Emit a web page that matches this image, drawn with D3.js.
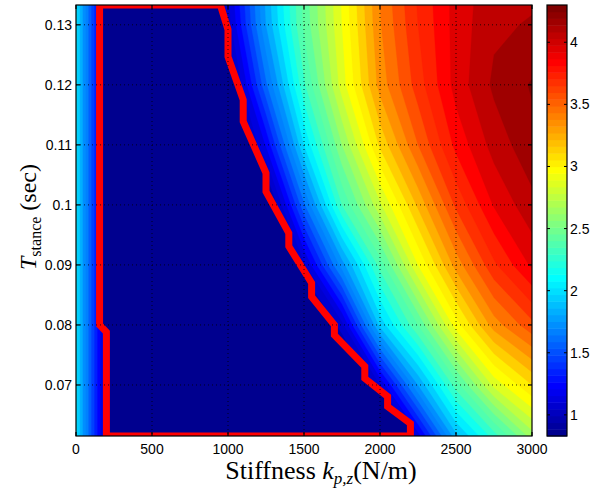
<!DOCTYPE html>
<html><head><meta charset="utf-8">
<script src="https://cdn.jsdelivr.net/npm/d3@7"></script>
<style>body{margin:0;background:#fff} svg{display:block}</style>
</head><body>
<svg id="c" width="607" height="494"></svg>
<script>
// ---- data ----
const kGrid = [0,100,250,500,750,1000,1250,1500,1750,2000,2250,2500,2750,3000];
const tGrid = [0.0615,0.07,0.08,0.09,0.10,0.11,0.12,0.13,0.1333];
const row0615 = [2.08,1.55,0.80,0.60,0.60,0.60,0.60,0.65,0.70,0.75,1.20,1.92,2.30,2.70];
const row0700 = [2.08,1.55,0.80,0.60,0.60,0.60,0.60,0.65,0.70,1.15,1.85,2.40,2.88,3.15];
const row0800 = [2.08,1.55,0.80,0.60,0.60,0.60,0.65,0.70,1.11,1.98,2.45,3.00,3.40,3.62];
const row0900 = [2.08,1.55,0.80,0.60,0.60,0.62,0.70,1.12,1.80,2.39,2.95,3.39,3.73,3.97];
const row1000 = [2.08,1.55,0.80,0.60,0.60,0.60,0.81,1.63,2.35,2.83,3.27,3.67,3.96,4.12];
const row1100 = [2.08,1.55,0.80,0.60,0.60,0.76,1.26,2.05,2.65,3.17,3.55,3.88,4.09,4.22];
const row1200 = [2.08,1.55,0.80,0.60,0.60,0.88,1.63,2.33,2.90,3.39,3.70,3.99,4.17,4.26];
const row1300 = [2.08,1.55,0.80,0.60,0.60,1.09,1.85,2.47,2.95,3.44,3.75,3.99,4.13,4.16];
const row1333 = [2.08,1.55,0.80,0.60,0.60,1.12,1.87,2.48,2.96,3.45,3.76,3.99,4.12,4.14];
const costRows = [row0615,row0700,row0800,row0900,row1000,row1100,row1200,row1300,row1333];

const boundaryK = [155,155,200,200,2200,2200,2050,2050,1900,1900,1700,1700,1550,1550,1400,1400,1250,1250,1100,1100,1000,1000,950];
const boundaryT = [0.1333,0.0800,0.0788,0.0615,0.0615,0.0636,0.0664,0.0681,0.0711,0.0731,0.0783,0.0800,0.0847,0.0870,0.0931,0.0953,0.1022,0.1053,0.1139,0.1175,0.1247,0.1292,0.1333];

const xTicks = [0,500,1000,1500,2000,2500,3000];
const yTicks = [0.07,0.08,0.09,0.10,0.11,0.12,0.13];
const yTickLabels = ["0.07","0.08","0.09","0.1","0.11","0.12","0.13"];
const cbTicks = [1,1.5,2,2.5,3,3.5,4];
const cbTickLabels = ["1","1.5","2","2.5","3","3.5","4"];
const cMin = 0.83, cMax = 4.30;
const levels = d3.range(0.85, 4.31, 0.1);

// ---- jet(64) colormap ----
function jet64(){
  const n=64,m=16,u=[];
  for(let i=1;i<=m;i++)u.push(i/m);
  for(let i=0;i<m-1;i++)u.push(1);
  for(let i=m;i>=1;i--)u.push(i/m);
  const J=Array.from({length:n},()=>[0,0,0]);
  const g0=Math.ceil(m/2);
  u.forEach((v,k)=>{const g=g0+k+1,r=g+m,b=g-m;
    if(g>=1&&g<=n)J[g-1][1]=v; if(r>=1&&r<=n)J[r-1][0]=v; if(b>=1&&b<=n)J[b-1][2]=v;});
  return J.map(c=>d3.rgb(c[0]*255,c[1]*255,c[2]*255).formatHex());
}
const cmap = jet64();
const colorOf = v => cmap[Math.max(0,Math.min(63,Math.floor((v-cMin)/(cMax-cMin)*64)))];

const svg = d3.select("#c");
const X0=76,X1=532,Y0=5,Y1=436;
const x = d3.scaleLinear([0,3000],[X0,X1]);
const y = d3.scaleLinear([0.0615,0.1333],[Y1,Y0]);

svg.append("defs").append("clipPath").attr("id","pc").append("rect")
  .attr("x",X0).attr("y",Y0).attr("width",X1-X0).attr("height",Y1-Y0);
const g = svg.append("g").attr("clip-path","url(#pc)");
g.append("rect").attr("x",X0).attr("y",Y0).attr("width",X1-X0).attr("height",Y1-Y0).attr("fill",cmap[0]);

const nk=kGrid.length, nt=tGrid.length;
const vals=[]; costRows.forEach(r=>r.forEach(v=>vals.push(v)));
const cont = d3.contours().size([nk,nt]).thresholds(levels)(vals);
function idxMap(c,arr){let t=Math.max(0,Math.min(arr.length-1,c-0.5));const i0=Math.min(arr.length-2,Math.floor(t));const f=t-i0;return arr[i0]+f*(arr[i0+1]-arr[i0]);}
const proj = d3.geoTransform({point(px,py){this.stream.point(x(idxMap(px,kGrid)),y(idxMap(py,tGrid)));}});
const path = d3.geoPath(proj);
g.selectAll("path.band").data(cont).join("path").attr("class","band")
  .attr("d",path).attr("fill",d=>colorOf(d.value)).attr("stroke",d=>colorOf(d.value)).attr("stroke-width",0.3);

// feasible region
const pts = boundaryK.map((k,i)=>[x(k),y(boundaryT[i])]);
g.append("path").attr("d",d3.line()(pts)+"Z").attr("fill",cmap[0])
  .attr("stroke","#ff0000").attr("stroke-width",7).attr("stroke-linejoin","miter");

// grid
const grid = svg.append("g").attr("stroke","#000").attr("stroke-width",0.8).attr("stroke-dasharray","1,3");
xTicks.slice(1,-1).forEach(t=>grid.append("line").attr("x1",x(t)).attr("x2",x(t)).attr("y1",Y0).attr("y2",Y1));
yTicks.forEach(t=>grid.append("line").attr("x1",X0).attr("x2",X1).attr("y1",y(t)).attr("y2",y(t)));

// frame & ticks
const ax = svg.append("g").attr("stroke","#000").attr("stroke-width",1.2);
ax.append("rect").attr("x",X0).attr("y",Y0).attr("width",X1-X0).attr("height",Y1-Y0).attr("fill","none");
xTicks.forEach(t=>{ax.append("line").attr("x1",x(t)).attr("x2",x(t)).attr("y1",Y1).attr("y2",Y1-4);
  ax.append("line").attr("x1",x(t)).attr("x2",x(t)).attr("y1",Y0).attr("y2",Y0+4);});
yTicks.forEach(t=>{ax.append("line").attr("x1",X0).attr("x2",X0+4).attr("y1",y(t)).attr("y2",y(t));
  ax.append("line").attr("x1",X1).attr("x2",X1-4).attr("y1",y(t)).attr("y2",y(t));});

const lab = svg.append("g").attr("font-family","'Liberation Sans',Arial,sans-serif").attr("font-size",14).attr("fill","#000");
xTicks.forEach(t=>lab.append("text").attr("x",x(t)).attr("y",454).attr("text-anchor","middle").text(String(t)));
yTicks.forEach((t,i)=>lab.append("text").attr("x",72).attr("y",y(t)+5).attr("text-anchor","end").text(yTickLabels[i]));

// colorbar
const CX0=547,CX1=567;
const cy = d3.scaleLinear([cMin,cMax],[Y1,Y0]);
const cb = svg.append("g");
const step=(cMax-cMin)/64;
cmap.forEach((c,i)=>cb.append("rect").attr("x",CX0).attr("width",CX1-CX0)
  .attr("y",cy(cMin+(i+1)*step)).attr("height",cy(cMin+i*step)-cy(cMin+(i+1)*step)+0.5).attr("fill",c));
cb.append("rect").attr("x",CX0).attr("y",Y0).attr("width",CX1-CX0).attr("height",Y1-Y0)
  .attr("fill","none").attr("stroke","#000").attr("stroke-width",1.2);
cbTicks.forEach((t,i)=>{
  cb.append("line").attr("x1",CX1).attr("x2",CX1-3).attr("y1",cy(t)).attr("y2",cy(t)).attr("stroke","#000");
  cb.append("line").attr("x1",CX0).attr("x2",CX0+3).attr("y1",cy(t)).attr("y2",cy(t)).attr("stroke","#000");
  lab.append("text").attr("x",570).attr("y",cy(t)+5).text(cbTickLabels[i]);
});

// axis labels
const serif="'Liberation Serif','Times New Roman',serif";
const xl = svg.append("text").attr("x",321).attr("y",479).attr("text-anchor","middle")
  .attr("font-family",serif).attr("font-size",26);
xl.append("tspan").text("Stiffness ");
xl.append("tspan").attr("font-style","italic").text("k");
xl.append("tspan").attr("font-style","italic").attr("font-size",17).attr("dy",5).text("p,z");
xl.append("tspan").attr("dy",-5).text("(N/m)");

const yl = svg.append("text").attr("transform","translate(36,217) rotate(-90)").attr("text-anchor","middle")
  .attr("font-family",serif).attr("font-size",24);
yl.append("tspan").attr("font-style","italic").text("T");
yl.append("tspan").attr("font-size",16).attr("dy",5).text("stance");
yl.append("tspan").attr("dy",-5).text(" (sec)");
</script>
</body></html>
